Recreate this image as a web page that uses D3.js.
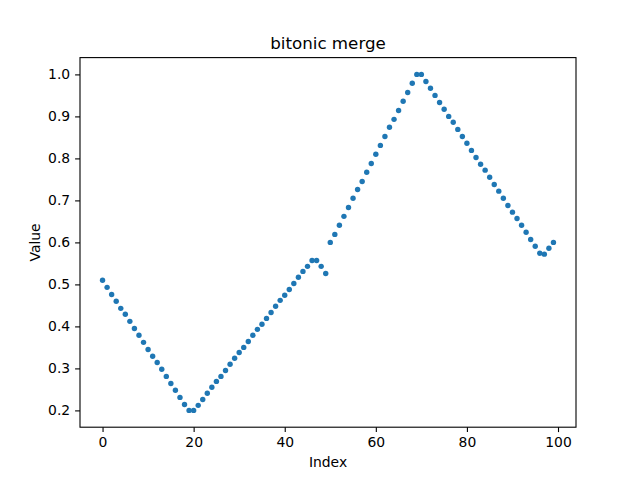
<!DOCTYPE html>
<html>
<head>
<meta charset="utf-8">
<script src="https://cdn.jsdelivr.net/npm/d3@7"></script>
<style>
  body { margin: 0; background: #fff; }
  svg { display: block; font-family: "DejaVu Sans", sans-serif; }
</style>
</head>
<body>
<svg width="640" height="480"></svg>
<script>
// Values, one per index
var values = [
  0.510, 0.493, 0.476, 0.460, 0.443, 0.429, 0.412, 0.395, 0.379, 0.362,
  0.345, 0.329, 0.314, 0.298, 0.281, 0.264, 0.248, 0.231, 0.214, 0.200,
  0.200, 0.212, 0.226, 0.241, 0.255, 0.269, 0.281, 0.295, 0.310, 0.324,
  0.338, 0.350, 0.364, 0.379, 0.393, 0.405, 0.419, 0.433, 0.448, 0.462,
  0.474, 0.488, 0.502, 0.517, 0.531, 0.543, 0.557, 0.557, 0.543, 0.526,
  0.600, 0.619, 0.641, 0.662, 0.683, 0.705, 0.726, 0.745, 0.767, 0.788,
  0.810, 0.831, 0.852, 0.874, 0.893, 0.914, 0.936, 0.957, 0.979, 1.000,
  1.000, 0.983, 0.967, 0.950, 0.933, 0.917, 0.900, 0.886, 0.869, 0.852,
  0.836, 0.819, 0.802, 0.786, 0.772, 0.755, 0.738, 0.722, 0.705, 0.688,
  0.672, 0.657, 0.641, 0.624, 0.607, 0.591, 0.574, 0.572, 0.586, 0.600
];
var xTicks = [0, 20, 40, 60, 80, 100];
var yTicks = [0.2, 0.3, 0.4, 0.5, 0.6, 0.7, 0.8, 0.9, 1.0];

var svg = d3.select("svg");

// matplotlib default subplot box
var plotLeft = 80, plotRight = 576, plotTop = 57.6, plotBottom = 427.2;

var xMin = 0, xMax = values.length - 1;
var xPad = (xMax - xMin) * 0.05;
var yMin = d3.min(values), yMax = d3.max(values);
var yPad = (yMax - yMin) * 0.05;

var x = d3.scaleLinear().domain([xMin - xPad, xMax + xPad]).range([plotLeft, plotRight]);
var y = d3.scaleLinear().domain([yMin - yPad, yMax + yPad]).range([plotBottom, plotTop]);

// Points
svg.append("g")
    .selectAll("circle")
    .data(values)
    .enter().append("circle")
    .attr("cx", (d, i) => x(i))
    .attr("cy", d => y(d))
    .attr("r", 2.7)
    .attr("fill", "#1f77b4");

// Axes
var xAxis = svg.append("g")
    .attr("transform", `translate(0,${plotBottom})`)
    .call(d3.axisBottom(x).tickValues(xTicks).tickSize(4.9).tickPadding(4.9)
        .tickFormat(d3.format("d")));

var yAxis = svg.append("g")
    .attr("transform", `translate(${plotLeft},0)`)
    .call(d3.axisLeft(y).tickValues(yTicks).tickSize(4.9).tickPadding(4.9)
        .tickFormat(d3.format(".1f")));

[xAxis, yAxis].forEach(a => {
    a.select(".domain").remove();
    a.selectAll("line").attr("stroke", "#000").attr("stroke-width", 1.1);
    a.selectAll("text").attr("font-size", "13.9px").attr("fill", "#000")
        .attr("font-family", "DejaVu Sans, sans-serif");
});

// Frame
svg.append("rect")
    .attr("x", plotLeft).attr("y", plotTop)
    .attr("width", plotRight - plotLeft).attr("height", plotBottom - plotTop)
    .attr("fill", "none")
    .attr("stroke", "#000")
    .attr("stroke-width", 1.1);

// Labels
svg.append("text")
    .attr("x", (plotLeft + plotRight) / 2).attr("y", 49)
    .attr("text-anchor", "middle")
    .attr("font-size", "16.7px")
    .text("bitonic merge");

svg.append("text")
    .attr("x", (plotLeft + plotRight) / 2).attr("y", 467)
    .attr("text-anchor", "middle")
    .attr("font-size", "13.9px")
    .text("Index");

svg.append("text")
    .attr("transform", `translate(40,${(plotTop + plotBottom) / 2}) rotate(-90)`)
    .attr("text-anchor", "middle")
    .attr("font-size", "13.9px")
    .text("Value");
</script>
</body>
</html>
